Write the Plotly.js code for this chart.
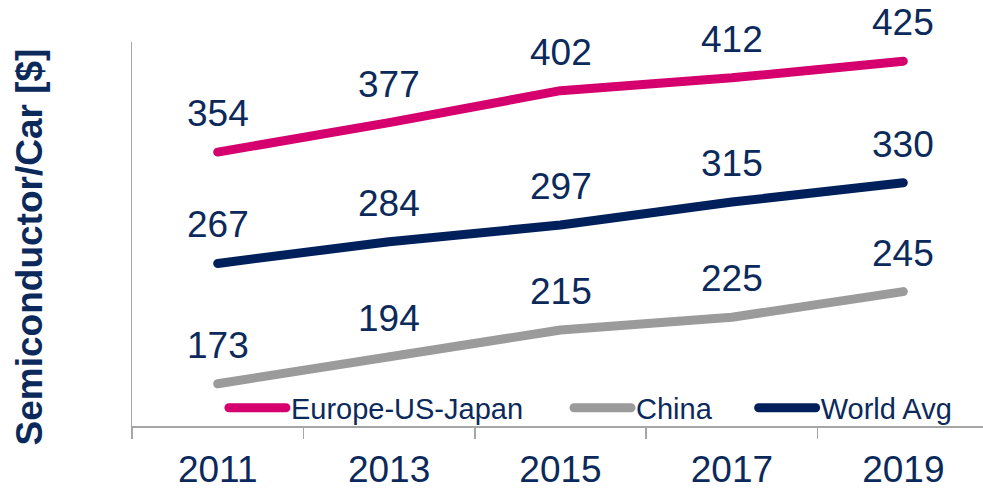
<!DOCTYPE html>
<html>
<head>
<meta charset="utf-8">
<script src="https://cdn.plot.ly/plotly-3.0.1.min.js"></script>
<style>
html,body{margin:0;padding:0;overflow:hidden;background:#fff;}
#chart{width:983px;height:491px;}
.scatterlayer .js-line, .legendlines path{stroke-linecap:round;stroke-linejoin:round;}
</style>
</head>
<body>
<div id="chart"></div>
<script>
const years = ["2011", "2013", "2015", "2017", "2019"];
const europeUSJapan = [354, 377, 402, 412, 425];
const china = [173, 194, 215, 225, 245];
const worldAvg = [267, 284, 297, 315, 330];
const seriesNames = ["Europe-US-Japan", "China", "World Avg"];
const yTitle = "Semiconductor/Car [$]";

const FONT = "Liberation Sans, Arial, sans-serif";
const NAVY_TXT = "#0b2a5b";
const colors = ["#d5006e", "#9b9b9b", "#00205b"];
const series = [europeUSJapan, china, worldAvg];
const legends = ["legend", "legend2", "legend3"];

const traces = series.map((vals, i) => ({
  type: "scatter",
  mode: "lines",
  x: years,
  y: vals,
  name: seriesNames[i],
  legend: legends[i],
  line: {color: colors[i], width: 9},
  hoverinfo: "skip"
}));

const annotations = [];
series.forEach((vals) => {
  vals.forEach((v, j) => {
    annotations.push({
      x: j, y: v, xref: "x", yref: "y",
      text: String(v), showarrow: false,
      yanchor: "bottom", yshift: 16,
      font: {family: FONT, size: 37, color: NAVY_TXT}
    });
  });
});
annotations.push({
  xref: "paper", yref: "paper", x: 0, y: 0.465,
  xanchor: "center", yanchor: "middle", xshift: -103,
  text: "<b>" + yTitle + "</b>", showarrow: false, textangle: -90,
  font: {family: FONT, size: 37, color: NAVY_TXT}
});

function leg(x) {
  return {
    x: x, y: 0.047, xanchor: "left", yanchor: "middle",
    orientation: "h", bgcolor: "rgba(0,0,0,0)", borderwidth: 0,
    itemwidth: 57, tracegroupgap: 0,
    font: {family: FONT, size: 29, color: NAVY_TXT}
  };
}

const layout = {
  width: 983, height: 491,
  margin: {l: 132, r: 0, t: 42, b: 65},
  paper_bgcolor: "#fff", plot_bgcolor: "#fff",
  showlegend: true,
  legend: leg(0.108),
  legend2: leg(0.5135),
  legend3: leg(0.7305),
  xaxis: {
    type: "category", range: [-0.5, 4.465],
    tickson: "boundaries", ticks: "outside", ticklen: 11, tickwidth: 1.5, tickcolor: "#a6a6a6",
    showline: true, linecolor: "#a6a6a6", linewidth: 1.5,
    showgrid: false, zeroline: false,
    tickfont: {family: FONT, size: 37, color: NAVY_TXT},
    ticklabelstandoff: 10
  },
  yaxis: {
    range: [140, 440], showline: true, linecolor: "#a6a6a6", linewidth: 1.5,
    showgrid: false, zeroline: false, showticklabels: false, ticks: ""
  },
  annotations: annotations
};

Plotly.newPlot("chart", traces, layout, {staticPlot: true, displayModeBar: false});
</script>
</body>
</html>
